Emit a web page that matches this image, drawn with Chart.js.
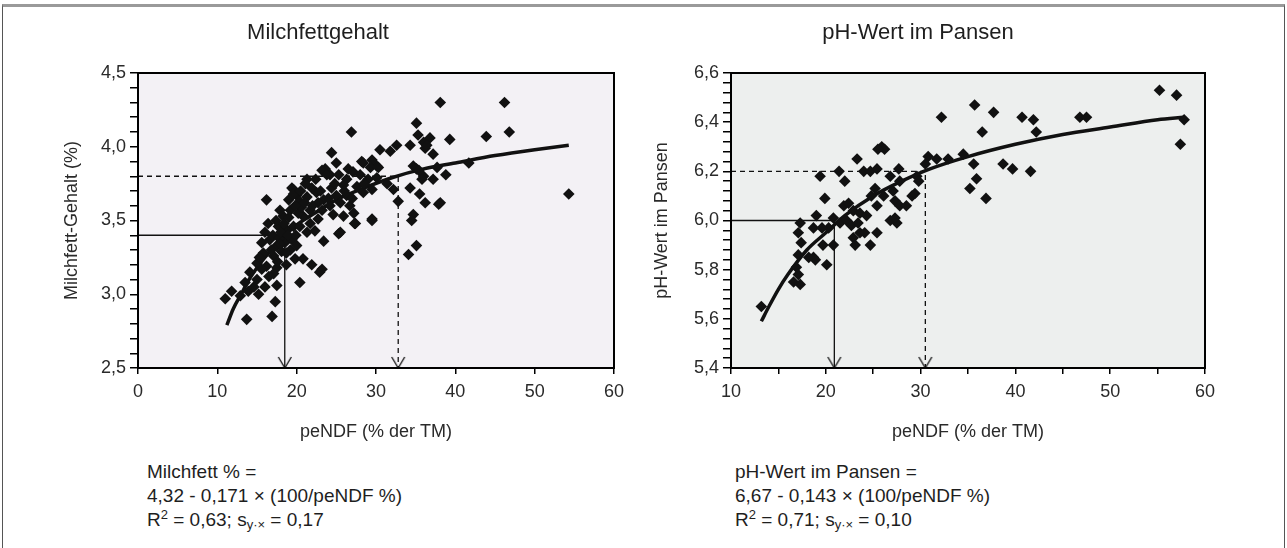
<!DOCTYPE html>
<html>
<head>
<meta charset="utf-8">
<script src="https://cdn.jsdelivr.net/npm/chart.js"></script>
<style>
  body { margin: 0; background: #fff; font-family: "Liberation Sans", Arial, sans-serif; color: #1e1e1e; }
  #frame { position: absolute; left: 2px; top: 4px; width: 1281px; height: 560px;
           border-top: 3px solid #9a9a9a; border-left: 1px solid #555; border-right: 1px solid #555; }
  canvas { position: absolute; top: 0; }
  .ttl { position: absolute; top: 19px; font-size: 22px; transform: translateX(-50%); white-space: nowrap; }
  .eq { position: absolute; top: 460px; font-size: 19px; line-height: 24px; white-space: nowrap; }
  .eq sub { font-size: 13px; vertical-align: -3px; line-height: 0; }
  .eq sup { font-size: 13px; vertical-align: 7px; line-height: 0; }
</style>
</head>
<body>
<div id="frame"></div>
<canvas id="fatChart" width="640" height="460" style="left:0"></canvas>
<canvas id="phChart" width="647" height="460" style="left:640px"></canvas>
<div class="ttl" style="left:318px">Milchfettgehalt</div>
<div class="ttl" style="left:918px">pH-Wert im Pansen</div>
<div class="eq" style="left:147px">Milchfett % =<br>4,32 - 0,171 × (100/peNDF %)<br>R<sup>2</sup> = 0,63; s<sub>y·×</sub> = 0,17</div>
<div class="eq" style="left:735px">pH-Wert im Pansen =<br>6,67 - 0,143 × (100/peNDF %)<br>R<sup>2</sup> = 0,71; s<sub>y·×</sub> = 0,10</div>
<script>
// Milchfett: Messpunkte (peNDF %, Fett %)
var fatX = [26.9,35.1,35.3,34.3,36.0,36.8,36.2,37.2,37.7,35.1,36.0,37.2,37.9,34.3,35.5,36.2,34.7,34.5,35.1,34.1,
  30.5,31.8,32.6,24.4,25.0,28.4,30.1,29.5,23.6,24.2,25.3,26.3,27.1,28.0,29.0,30.1,31.4,32.2,32.8,21.3,
  21.9,22.5,19.6,19.0,20.0,24.4,25.9,27.6,25.0,26.3,28.4,29.5,23.4,24.2,25.5,26.7,27.2,25.9,24.6,29.5,
  27.4,21.7,22.7,20.8,19.2,20.2,18.3,16.2,17.9,16.4,17.7,18.7,19.6,20.4,21.7,22.3,21.3,25.3,23.4,15.6,
  16.6,17.5,18.5,19.4,15.8,17.1,18.1,19.2,20.0,15.0,16.2,17.5,18.7,19.8,20.8,21.9,22.9,23.2,20.4,14.1,
  15.0,15.6,17.1,17.5,17.3,16.9,13.5,13.9,12.9,11.8,11.0,13.7,20.6,21.3,20.4,23.2,22.7,25.5,27.3,29.5,
  38.1,46.2,36.4,39.3,43.9,46.8,34.7,35.4,35.8,38.8,41.7,38.1,54.3,19.4,19.6,21.1,23.2,23.8,28.2,29.3,
  30.3,17.0,17.8,18.0,18.9,17.4,18.4,19.0,16.8,17.6,16.5,16.0,15.2,14.6,22.0,23.0,24.0,24.8,22.4,26.0,
  27.0,28.5,26.5,19.8,20.5,21.0,18.7,19.9,17.9,16.0,15.3];
var fatY = [4.10,4.16,4.08,4.01,4.03,4.06,3.99,3.95,3.86,3.85,3.80,3.78,3.61,3.72,3.68,3.62,3.54,3.50,3.33,3.27,
  3.98,3.97,4.01,3.96,3.89,3.89,3.87,3.91,3.85,3.81,3.81,3.78,3.83,3.81,3.78,3.79,3.75,3.71,3.63,3.78,
  3.72,3.69,3.71,3.64,3.67,3.72,3.74,3.73,3.67,3.67,3.69,3.71,3.64,3.60,3.62,3.60,3.55,3.53,3.54,3.51,
  3.48,3.57,3.62,3.53,3.57,3.55,3.53,3.64,3.57,3.48,3.46,3.44,3.46,3.46,3.48,3.43,3.42,3.41,3.36,3.35,
  3.37,3.33,3.35,3.37,3.28,3.26,3.29,3.30,3.33,3.21,3.19,3.18,3.20,3.24,3.24,3.20,3.15,3.17,3.08,3.15,
  3.10,3.17,3.14,3.06,2.95,2.85,3.08,3.02,2.99,3.02,2.97,2.83,3.59,3.66,3.63,3.57,3.51,3.42,3.48,3.50,
  4.30,4.30,4.01,4.05,4.07,4.10,3.87,3.84,3.78,3.81,3.89,3.62,3.68,3.72,3.68,3.75,3.84,3.81,3.90,3.86,
  3.86,3.40,3.38,3.42,3.40,3.50,3.48,3.52,3.30,3.22,3.12,3.05,3.00,3.05,3.60,3.70,3.65,3.75,3.78,3.70,
  3.65,3.75,3.85,3.60,3.70,3.62,3.28,3.40,3.34,3.42,3.25];
// Regressionskurve Milchfett
var fatFitX = [11.2,12,13,14,15,16,18,20,22,25,28,32,36,40,45,50,54.3];
var fatFitY = [2.79,2.90,3.00,3.10,3.18,3.25,3.37,3.47,3.54,3.64,3.71,3.79,3.85,3.89,3.94,3.98,4.01];
// Hilfslinien Milchfett
var fatSolidX = [0, 18.5, 18.5], fatSolidY = [3.4, 3.4, 2.5];
var fatDashX = [0, 32.8, 32.8], fatDashY = [3.8, 3.8, 2.5];

// pH-Wert: Messpunkte
var phX = [35.7,37.7,32.2,36.5,25.9,26.2,25.5,23.3,30.8,31.7,32.9,34.5,30.5,35.6,35.9,35.2,36.9,19.4,21.4,22.0,
  24.0,24.7,25.4,26.8,27.7,27.8,29.6,29.8,25.2,24.8,26.1,27.1,27.3,27.8,28.5,29.1,29.4,19.9,21.9,22.4,
  22.9,23.6,24.3,25.4,26.8,27.5,27.3,19.0,20.8,21.5,22.2,22.7,23.4,20.3,22.9,23.6,24.1,23.1,25.4,24.7,
  19.7,20.8,17.3,17.1,17.4,17.1,16.9,17.1,16.6,17.3,18.7,18.9,20.1,18.2,13.2,18.7,19.6,40.7,41.9,42.2,
  46.8,47.5,55.2,57.0,57.8,57.4,38.7,39.7,41.6];
var phY = [6.47,6.44,6.42,6.36,6.30,6.29,6.29,6.25,6.26,6.25,6.25,6.27,6.23,6.23,6.17,6.13,6.09,6.18,6.20,6.16,
  6.20,6.20,6.21,6.18,6.21,6.16,6.18,6.16,6.13,6.10,6.10,6.12,6.08,6.06,6.06,6.10,6.11,6.09,6.06,6.07,
  6.04,6.03,6.02,6.06,6.00,5.99,6.01,6.02,6.01,5.99,6.00,5.98,5.99,5.97,5.93,5.95,5.95,5.90,5.95,5.90,
  5.90,5.90,5.99,5.95,5.91,5.86,5.81,5.78,5.75,5.74,5.85,5.84,5.82,5.85,5.65,5.97,5.97,6.42,6.41,6.36,
  6.42,6.42,6.53,6.51,6.41,6.31,6.23,6.21,6.20];
// Regressionskurve pH
var phFitX = [13.2,14,15,16,18,20,22,25,28,31,35,40,45,50,55,57.8];
var phFitY = [5.59,5.65,5.72,5.78,5.88,5.95,6.02,6.10,6.16,6.21,6.26,6.31,6.35,6.38,6.41,6.42];
// Hilfslinien pH
var phSolidX = [10, 20.9, 20.9], phSolidY = [6.0, 6.0, 5.4];
var phDashX = [10, 30.5, 30.5], phDashY = [6.2, 6.2, 5.4];

function zip(xs, ys) { return xs.map(function (x, i) { return { x: x, y: ys[i] }; }); }

// offene Pfeilspitze als pointStyle (Spitze in der Bildmitte)
function arrowHead() {
  var c = document.createElement('canvas');
  c.width = 20; c.height = 28;
  var g = c.getContext('2d');
  g.strokeStyle = '#111'; g.lineWidth = 1.3;
  g.beginPath(); g.moveTo(3.5, 3); g.lineTo(10, 14); g.lineTo(16.5, 3); g.stroke();
  return c;
}
var arrow = arrowHead();

var plotFrame = {
  id: 'plotFrame',
  beforeDraw: function (chart, args, opts) {
    var a = chart.chartArea, g = chart.ctx;
    g.save(); g.fillStyle = opts.bg;
    g.fillRect(a.left, a.top, a.right - a.left, a.bottom - a.top);
    g.restore();
  },
  afterDatasetsDraw: function (chart) {
    var a = chart.chartArea, g = chart.ctx;
    g.save(); g.strokeStyle = '#000'; g.lineWidth = 2;
    g.strokeRect(a.left, a.top, a.right - a.left, a.bottom - a.top);
    g.restore();
  }
};

var font = { family: '"Liberation Sans", Arial, sans-serif', size: 18 };

function guide(data, dashed) {
  return {
    type: 'line', data: data, borderColor: '#111', borderWidth: 1.3,
    borderDash: dashed ? [5, 4] : [], pointRadius: [0, 0, 5],
    pointStyle: ['circle', 'circle', arrow], tension: 0, clip: false
  };
}

function makeChart(id, cfg) {
  return new Chart(document.getElementById(id), {
    type: 'scatter',
    data: {
      datasets: [
        { data: zip(cfg.px, cfg.py), pointStyle: 'rectRot', pointRadius: 5.8,
          backgroundColor: '#111', borderWidth: 0 },
        { type: 'line', data: zip(cfg.fx, cfg.fy), borderColor: '#111', borderWidth: 3.5,
          pointRadius: 0, tension: 0.4, cubicInterpolationMode: 'monotone' },
        guide(zip(cfg.sx, cfg.sy), false),
        guide(zip(cfg.dx, cfg.dy), true)
      ]
    },
    options: {
      responsive: false, animation: false, events: [],
      layout: { padding: { top: 73, right: cfg.padRight, left: 0, bottom: 0 } },
      plugins: { legend: { display: false }, tooltip: { enabled: false }, plotFrame: { bg: cfg.bg } },
      scales: {
        x: {
          type: 'linear', min: cfg.xmin, max: 60,
          afterFit: function (s) { s.height = 92; },
          border: { display: true, color: '#000', width: 2 },
          grid: { drawOnChartArea: false, drawTicks: true, tickLength: 6, color: '#000', lineWidth: 1.5 },
          ticks: { stepSize: cfg.xstep, autoSkip: false, maxRotation: 0, padding: 7, color: '#2a2a2a', font: font,
                   callback: function (v) { return v % 10 === 0 ? String(v) : ''; } },
          title: { display: true, text: 'peNDF (% der TM)', color: '#2a2a2a', font: font,
                   padding: { top: 0, bottom: 17 } }
        },
        y: {
          type: 'linear', min: cfg.ymin, max: cfg.ymax,
          afterFit: function (s) { s.width = cfg.yWidth; },
          border: { display: true, color: '#000', width: 2 },
          grid: { drawOnChartArea: false, drawTicks: true, tickLength: 8, color: '#000', lineWidth: 1.5 },
          ticks: { stepSize: cfg.ystep, autoSkip: false, padding: 4, color: '#2a2a2a', font: font,
                   callback: function (v) {
                     var k = (v - cfg.ymin) / cfg.ymajor;
                     return Math.abs(k - Math.round(k)) < 1e-6 ? v.toFixed(1).replace('.', ',') : '';
                   } },
          title: { display: true, text: cfg.ytitle, color: '#2a2a2a', font: font,
                   padding: { top: cfg.yTitlePad, bottom: 0 } }
        }
      }
    },
    plugins: [plotFrame]
  });
}

makeChart('fatChart', {
  px: fatX, py: fatY, fx: fatFitX, fy: fatFitY, sx: fatSolidX, sy: fatSolidY, dx: fatDashX, dy: fatDashY,
  xmin: 0, xstep: 10, ymin: 2.5, ymax: 4.5, ystep: 0.1, ymajor: 0.5,
  ytitle: 'Milchfett-Gehalt (%)', yWidth: 138, yTitlePad: 61, padRight: 26, bg: '#f3f1f5'
});
makeChart('phChart', {
  px: phX, py: phY, fx: phFitX, fy: phFitY, sx: phSolidX, sy: phSolidY, dx: phDashX, dy: phDashY,
  xmin: 10, xstep: 5, ymin: 5.4, ymax: 6.6, ystep: 0.04, ymajor: 0.2,
  ytitle: 'pH-Wert im Pansen', yWidth: 91, yTitlePad: 11, padRight: 82, bg: '#edefee'
});
</script>
</body>
</html>
